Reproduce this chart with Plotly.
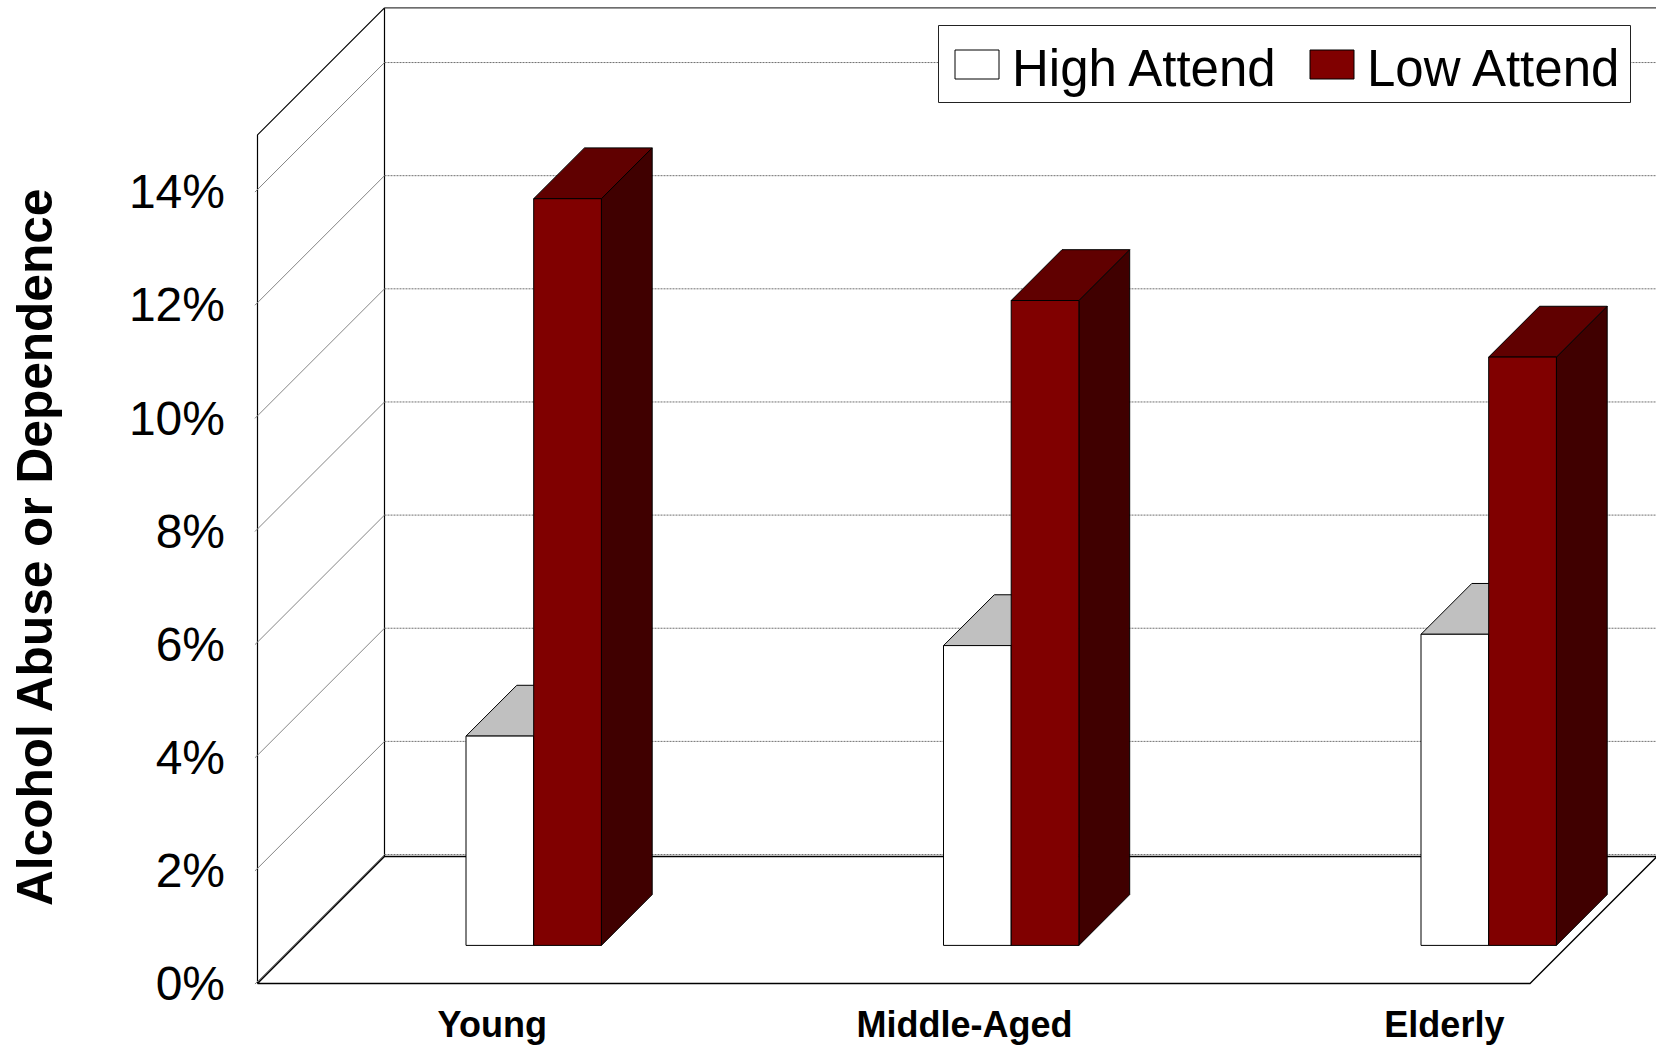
import plotly.graph_objects as go

# Survey results, percent of each age group
categories = ["Young", "Middle-Aged", "Elderly"]
high_attend = [3.7, 5.3, 5.5]
low_attend = [13.2, 11.4, 10.4]
percent_ticks = [0, 2, 4, 6, 8, 10, 12, 14]
series_names = ["High Attend", "Low Attend"]
axis_title = "Alcohol Abuse or Dependence"

# Figure geometry in pixels
WIDTH, HEIGHT = 1656, 1047
PLOT_LEFT, PLOT_TOP, PLOT_BOTTOM = 250, 2, 990
WALL_LEFT, FLOOR_Y = 257.5, 983.5
PX_PER_GROUP = 477.5
PX_PER_PERCENT = 56.57
DEPTH_PX = 127
FIRST_GROUP_X = 495.6

# Oblique projection expressed in axis units
DX = DEPTH_PX / PX_PER_GROUP
DY = DEPTH_PX / PX_PER_PERCENT
X_MIN = (PLOT_LEFT - FIRST_GROUP_X) / PX_PER_GROUP
X_MAX = (WIDTH - FIRST_GROUP_X) / PX_PER_GROUP
X_WALL = (WALL_LEFT - FIRST_GROUP_X) / PX_PER_GROUP
X_FLOOR_END = (1530 - FIRST_GROUP_X) / PX_PER_GROUP
Y_MIN = (FLOOR_Y - PLOT_BOTTOM) / PX_PER_PERCENT
Y_MAX = (FLOOR_Y - PLOT_TOP) / PX_PER_PERCENT
WALL_TOP = 15.0
GRID_LIFT = 0.035
BAR_W = 67.7 / PX_PER_GROUP
BAR_NEAR, BAR_FAR = 0.3, 0.7
LABEL_SHIFT = [-0.007, -0.018, -0.013]

FONT = "Liberation Sans"
EDGE = "#000000"
GRID = "#707070"


def project(x, value, depth):
    return x + depth * DX, value + depth * DY


def polygon(points, fill, edge=EDGE, width=1.0):
    xs, ys = zip(*[project(*p) for p in points + points[:1]])
    return go.Scatter(
        x=xs, y=ys, mode="lines", fill="toself", fillcolor=fill,
        line=dict(color=edge, width=width), hoverinfo="skip", showlegend=False,
    )


def polyline(points, color, width=1.0, dash="solid"):
    xs, ys = zip(*[project(*p) for p in points])
    return go.Scatter(
        x=xs, y=ys, mode="lines", line=dict(color=color, width=width, dash=dash),
        hoverinfo="skip", showlegend=False,
    )


def bar_faces(x0, x1, value, front, top, side):
    n, f = BAR_NEAR, BAR_FAR
    return [
        polygon([(x1, 0, n), (x1, 0, f), (x1, value, f), (x1, value, n)], side),
        polygon([(x0, value, n), (x1, value, n), (x1, value, f), (x0, value, f)], top),
        polygon([(x0, 0, n), (x1, 0, n), (x1, value, n), (x0, value, n)], front),
    ]


traces = []

# Side wall and back wall outlines
traces.append(polygon(
    [(X_WALL, 0, 0), (X_WALL, WALL_TOP, 0), (X_WALL, WALL_TOP, 1), (X_WALL, 0, 1)], "white", width=1.2
))
traces.append(polyline([(X_WALL, WALL_TOP, 1), (X_MAX, WALL_TOP, 1)], "#3c3c3c", 1.2))

# Gridlines run along the side wall, then across the back wall
for tick in percent_ticks:
    level = tick + GRID_LIFT
    traces.append(polyline([(X_WALL, level, -0.02), (X_WALL, level, 1)], "#858585", 1.0))
    traces.append(polyline([(X_WALL, level, 1), (X_FLOOR_END, level, 1)], GRID, 1.0, "2px,1px"))

# Floor
traces.append(polygon(
    [(X_WALL, 0, 0), (X_FLOOR_END, 0, 0), (X_FLOOR_END, 0, 1), (X_WALL, 0, 1)], "white", width=1.3
))

# Bars, drawn back to front in each group
for i, (high, low) in enumerate(zip(high_attend, low_attend)):
    traces += bar_faces(i - BAR_W, i, high, "#ffffff", "#c0c0c0", "#808080")
    traces += bar_faces(i, i + BAR_W, low, "#800000", "#600000", "#400000")

fig = go.Figure(traces)

plot_w = WIDTH - PLOT_LEFT
plot_h = PLOT_BOTTOM - PLOT_TOP


def paper_x(px):
    return (px - PLOT_LEFT) / plot_w


def paper_y(py):
    return (PLOT_BOTTOM - py) / plot_h


# Legend box with its swatches and labels
legend_shapes = [
    dict(x0=938.5, x1=1630.5, y0=25.5, y1=102.5, fill="white", line="#222222"),
    dict(x0=955, x1=999, y0=50, y1=79, fill="white", line="#000000"),
    dict(x0=1310, x1=1354, y0=50, y1=79, fill="#800000", line="#000000"),
]
shapes = [
    dict(
        type="rect", xref="paper", yref="paper", layer="above",
        x0=paper_x(s["x0"]), x1=paper_x(s["x1"]),
        y0=paper_y(s["y1"]), y1=paper_y(s["y0"]),
        fillcolor=s["fill"], line=dict(color=s["line"], width=1),
    )
    for s in legend_shapes
]
annotations = [
    dict(
        x=paper_x(px), y=paper_y(68), xref="paper", yref="paper",
        text=name, showarrow=False, xanchor="left", yanchor="middle",
        font=dict(family=FONT, size=51, color="black"),
    )
    for name, px in zip(series_names, [1010, 1365])
]
annotations.append(dict(
    x=paper_x(35), y=paper_y(548), xref="paper", yref="paper",
    text=axis_title, textangle=-90, showarrow=False,
    xanchor="center", yanchor="middle",
    font=dict(family=FONT, size=49.6, color="black", weight="bold"),
))

fig.update_layout(
    width=WIDTH, height=HEIGHT,
    margin=dict(l=PLOT_LEFT, r=0, t=PLOT_TOP, b=HEIGHT - PLOT_BOTTOM, autoexpand=False),
    paper_bgcolor="white", plot_bgcolor="rgba(0,0,0,0)",
    showlegend=False, shapes=shapes, annotations=annotations,
    xaxis=dict(
        range=[X_MIN, X_MAX], showgrid=False, zeroline=False, showline=False,
        tickmode="array",
        tickvals=[i + s for i, s in enumerate(LABEL_SHIFT)],
        ticktext=categories, ticks="", ticklabelstandoff=10,
        tickfont=dict(family=FONT, size=36, color="black", weight="bold"),
    ),
    yaxis=dict(
        range=[Y_MIN, Y_MAX], showgrid=False, zeroline=False, showline=False,
        tickmode="array", tickvals=percent_ticks,
        ticktext=[f"{t}%" for t in percent_ticks], ticks="", ticklabelstandoff=24,
        tickfont=dict(family=FONT, size=48, color="black"),
    ),
)

fig.write_html("out.html")
